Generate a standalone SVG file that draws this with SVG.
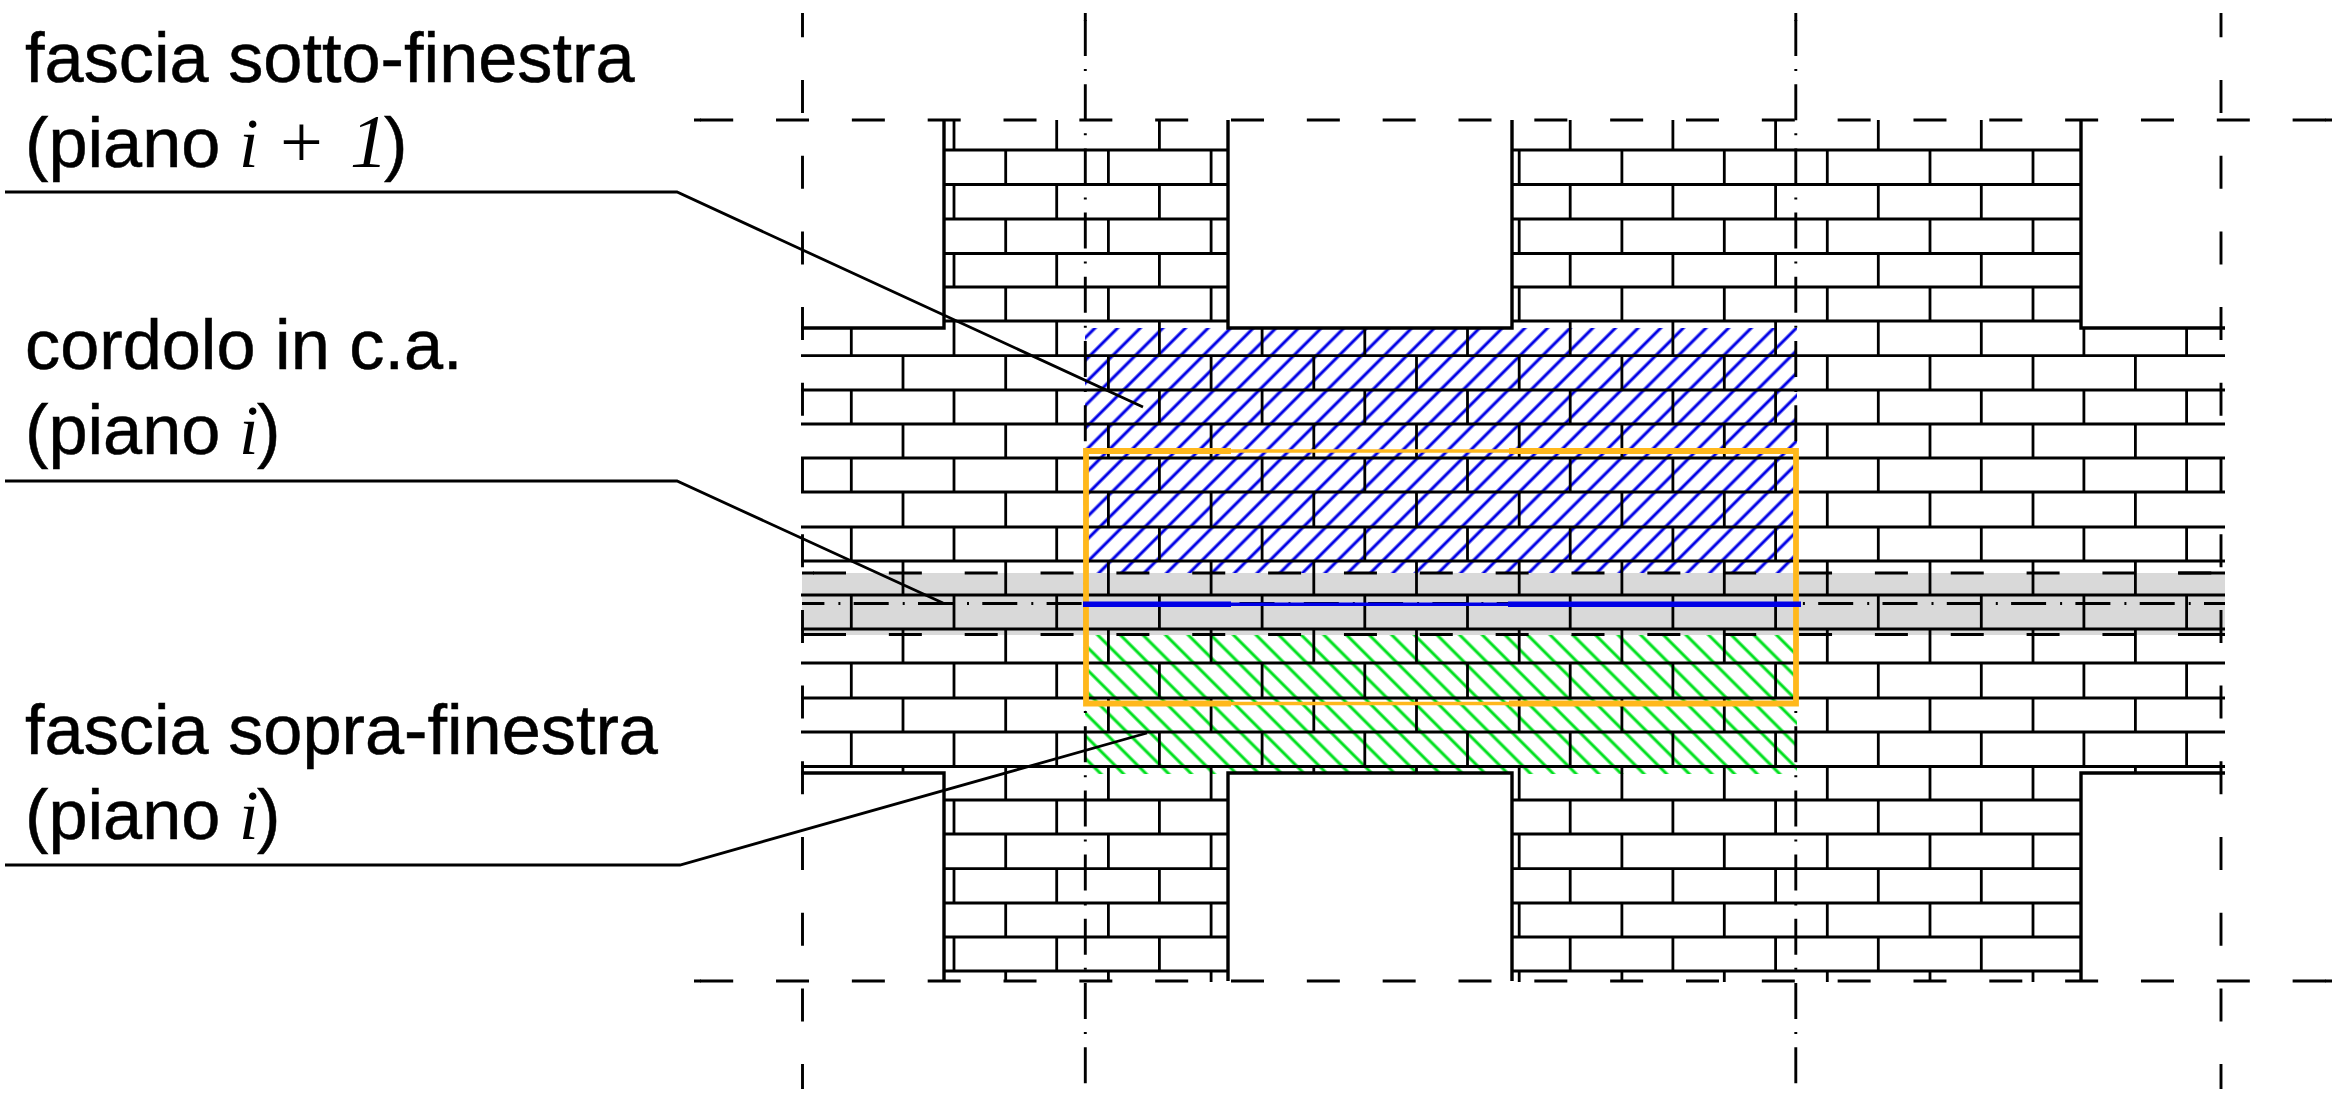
<svg xmlns="http://www.w3.org/2000/svg" width="2339" height="1098" viewBox="0 0 2339 1098">
<style>
.bg{fill:#fff}
.band{fill:#d9d9d9}
.course{fill:none;stroke:#000;stroke-width:2.8}
.ja,.jb{stroke:#000;stroke-width:2.8;fill:none;stroke-dasharray:34.2 34.2}
.ja{stroke-dashoffset:3.2}
.win{fill:#fff}
.wall{fill:none;stroke:#000;stroke-width:3.4}
.dash{fill:none;stroke:#000;stroke-width:2.9}
.axv{stroke-dasharray:33 42.7;stroke-dashoffset:8.7}
.axc{stroke-dasharray:36 13 2 13.2}
.axh{stroke-dasharray:33 42.83}
.axb{stroke-dasharray:33 42.85}
.axd{stroke-dasharray:35 14 2 13.3;stroke-dashoffset:12.6}
.or{fill:none;stroke:#ffb81c}
.bl{fill:none;stroke:#0000e6}
.lead{fill:none;stroke:#000;stroke-width:2.8}
text{font-family:"Liberation Sans",Arial,sans-serif;font-size:70.3px;fill:#000;stroke:#000;stroke-width:.5}
.m{font-family:"Liberation Serif","Times New Roman",serif;font-style:italic;stroke:none}
.p{font-family:"Liberation Serif","Times New Roman",serif;stroke:none}
.big{font-size:76px}
</style>
<defs>
<pattern id="hb" width="16" height="16" patternUnits="userSpaceOnUse" patternTransform="translate(1096 327) rotate(45)"><rect x="-1.5" width="3" height="16" fill="#0000e6"/><rect x="14.5" width="3" height="16" fill="#0000e6"/></pattern>
<pattern id="hg" width="16" height="16" patternUnits="userSpaceOnUse" patternTransform="translate(1100 773) rotate(-45)"><rect x="-1.5" width="3" height="16" fill="#00e01e"/><rect x="14.5" width="3" height="16" fill="#00e01e"/></pattern>
</defs>
<rect class="bg" width="2339" height="1098"/>
<g id="cordolo-band"><rect class="band" x="802" y="573" width="1423" height="62"/></g>
<g id="fascia-sotto-finestra"><rect x="1085" y="328" width="712" height="245" fill="url(#hb)"/></g>
<g id="fascia-sopra-finestra"><rect x="1085" y="635" width="712" height="139" fill="url(#hg)"/></g>
<g id="masonry">
<path class="course" d="M801 150H2225M801 184.5H2225M801 219H2225M801 253.5H2225M801 287H2225M801 321H2225M801 355.6H2225M801 390H2225M801 424H2225M801 458H2225M801 492H2225M801 527H2225M801 561H2225M801 595H2225M801 629H2225M801 663H2225M801 698H2225M801 732H2225M801 766.5H2225M801 800H2225M801 834H2225M801 868.6H2225M801 903H2225M801 937H2225M801 971H2225"/>
<g class="ja">
<path d="M851.3 120V982"/><path d="M954 120V982"/><path d="M1056.7 120V982"/><path d="M1159.4 120V982"/><path d="M1262.1 120V982"/><path d="M1364.8 120V982"/><path d="M1467.5 120V982"/><path d="M1570.2 120V982"/><path d="M1672.9 120V982"/><path d="M1775.6 120V982"/><path d="M1878.3 120V982"/><path d="M1981.3 120V982"/><path d="M2083.9 120V982"/><path d="M2186.6 120V982"/>
</g>
<g class="jb">
<path d="M903 150V982"/><path d="M1005.7 150V982"/><path d="M1108.4 150V982"/><path d="M1211.1 150V982"/><path d="M1313.8 150V982"/><path d="M1416.5 150V982"/><path d="M1519.2 150V982"/><path d="M1621.9 150V982"/><path d="M1724.3 150V982"/><path d="M1827.3 150V982"/><path d="M1930 150V982"/><path d="M2033 150V982"/><path d="M2135.4 150V982"/>
</g>
</g>
<g id="windows">
<rect class="win" x="798" y="118" width="146" height="210"/>
<rect class="win" x="1228" y="118" width="284" height="210"/>
<rect class="win" x="2081" y="118" width="150" height="210"/>
<rect class="win" x="798" y="773" width="146" height="212"/>
<rect class="win" x="1228" y="773" width="284" height="212"/>
<rect class="win" x="2081" y="773" width="150" height="212"/>
<path class="wall" d="M801 328H944V120M1228 120V328H1512V120M2081 120V328H2225M801 773H944V981M1228 981V773H1512V981M2081 981V773H2225"/>
</g>
<g id="axes">
<path class="dash axv" d="M802.5 13V1089"/>
<path class="dash axv" d="M2221 13V1089"/>
<path class="dash axc" d="M1085.3 20V1091"/>
<path class="dash axc" d="M1795.8 20V1091"/>
<path class="dash" d="M1085.3 13V21M1795.8 13V21"/>
<path class="dash axh" d="M700.2 120H2326"/>
<path class="dash axh" d="M700.2 981H2326"/>
<path class="dash" d="M694 120H701M2325 120H2332M694 981H701M2325 981H2332"/>
<path class="dash axb" d="M813 573H2212"/>
<path class="dash axb" d="M813 634.5H2212"/>
<path class="dash" d="M802 573H814M2178 573H2225M802 634.5H814M2178 634.5H2225"/>
<path class="dash axd" d="M802 603.5H2225"/>
</g>
<g id="perimeter">
<path class="or" stroke-width="3.4" d="M1230 451H1509M1230 703.5H1509"/>
<path class="or" stroke-width="5.8" d="M1509 451H1796V703.5H1509M1231 451H1086V703.5H1231"/>
<path class="bl" stroke-width="3.6" d="M1230 604.3H1509"/>
<path class="bl" stroke-width="5.6" d="M1083 604.3H1231M1508 604.3H1801"/>
</g>
<g id="connectors">
<path class="lead" d="M5 192H677L1143 407"/>
<path class="lead" d="M5 481H677L943 603"/>
<path class="lead" d="M5 865H680L1147 733"/>
</g>
<g id="label-sotto">
<text x="25" y="82">fascia sotto-finestra</text>
<text y="167"><tspan x="25">(piano </tspan><tspan class="m" x="239">i</tspan><tspan class="p big" x="280">+</tspan><tspan class="m big" x="350">1</tspan><tspan x="384">)</tspan></text>
</g>
<g id="label-cordolo">
<text x="25" y="368.5">cordolo in c.a.</text>
<text y="454"><tspan x="25">(piano </tspan><tspan class="m" x="239">i</tspan><tspan x="257">)</tspan></text>
</g>
<g id="label-sopra">
<text x="25" y="754">fascia sopra-finestra</text>
<text y="839"><tspan x="25">(piano </tspan><tspan class="m" x="239">i</tspan><tspan x="257">)</tspan></text>
</g>
</svg>
